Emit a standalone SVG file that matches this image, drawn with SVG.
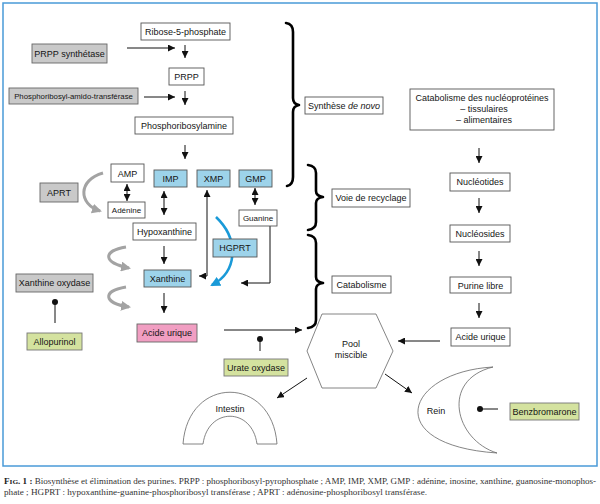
<svg xmlns="http://www.w3.org/2000/svg" width="600" height="504" viewBox="0 0 600 504">
<style>
text{font-family:"Liberation Sans",Arial,sans-serif;font-size:9px;fill:#151515;text-anchor:middle}
.sm{font-size:8px}
.xs{font-size:7.8px}
.box{fill:#fff;stroke:#555;stroke-width:0.9}
.gray{fill:#c9c9c9;stroke:#666;stroke-width:0.9}
.blue{fill:#9dd3ea;stroke:#555;stroke-width:0.9}
.green{fill:#d4e29f;stroke:#777;stroke-width:0.9}
.pink{fill:#f19ec2;stroke:#666;stroke-width:0.9}
.ln{fill:none;stroke:#111;stroke-width:1}
.garr{fill:none;stroke:#a3a3a3;stroke-width:3}
.barr{fill:none;stroke:#1a9ad8;stroke-width:2.6}
.brace{fill:none;stroke:#000;stroke-width:2.6;stroke-linecap:round;stroke-linejoin:round}
.organ{fill:#fff;stroke:#666;stroke-width:0.8}
.cap{font-family:"Liberation Serif","Times New Roman",serif;font-size:7.6px;text-anchor:start;fill:#333}
</style>
<defs>
<marker id="ah" viewBox="0 0 10 10" refX="10" refY="5" markerWidth="7" markerHeight="7" markerUnits="userSpaceOnUse" orient="auto-start-reverse"><path d="M0,0 L10,5 L0,10 z" fill="#111"/></marker>
<marker id="ahg" viewBox="0 0 10 10" refX="8" refY="5" markerWidth="10" markerHeight="10" markerUnits="userSpaceOnUse" orient="auto"><path d="M0,0 L10,5 L0,10 z" fill="#a3a3a3"/></marker>
<marker id="ahb" viewBox="0 0 10 10" refX="8" refY="5" markerWidth="10" markerHeight="10" markerUnits="userSpaceOnUse" orient="auto"><path d="M0,0 L10,5 L0,10 z" fill="#1a9ad8"/></marker>
</defs>
<rect x="3" y="3" width="594" height="463" fill="#fff" stroke="#4a9ad8" stroke-width="1.5"/>

<g id="connectors">
<path class="ln" d="M127,48 L175,48" marker-end="url(#ah)"/>
<path class="ln" d="M185,45 L185,58" marker-end="url(#ah)"/>
<path class="ln" d="M144,97 L175,97" marker-end="url(#ah)"/>
<path class="ln" d="M185,91 L185,105" marker-end="url(#ah)"/>
<path class="ln" d="M185,145 L185,159" marker-end="url(#ah)"/>
<path class="ln" d="M127,184 L127,201" marker-start="url(#ah)" marker-end="url(#ah)"/>
<path class="ln" d="M164,191 L164,215" marker-start="url(#ah)" marker-end="url(#ah)"/>
<path class="ln" d="M255,188 L255,205" marker-start="url(#ah)" marker-end="url(#ah)"/>
<path class="ln" d="M164,246 L164,264" marker-end="url(#ah)"/>
<path class="ln" d="M164,293 L164,313" marker-end="url(#ah)"/>
<path class="ln" d="M207,190 L207,276 L199,276" marker-start="url(#ah)" marker-end="url(#ah)"/>
<path class="ln" d="M270,226 L270,283 L241,283" marker-end="url(#ah)"/>
<path class="garr" d="M103,173 C78,180 78,204 100,211" marker-end="url(#ahg)"/>
<path class="garr" d="M126,247 C102,251 103,263 129,268" marker-end="url(#ahg)"/>
<path class="garr" d="M126,287 C102,291 103,303 129,307" marker-end="url(#ahg)"/>
<path class="barr" d="M216,217 C240,240 237,272 212,285" marker-end="url(#ahb)"/>
<path class="ln" d="M224,330 L302,330" marker-end="url(#ah)"/>
<path class="ln" d="M479,148 L479,163" marker-end="url(#ah)"/>
<path class="ln" d="M479,198 L479,213" marker-end="url(#ah)"/>
<path class="ln" d="M479,251 L479,266" marker-end="url(#ah)"/>
<path class="ln" d="M479,303 L479,318" marker-end="url(#ah)"/>
<path class="ln" d="M440,341 L398,341" marker-end="url(#ah)"/>
<path class="ln" d="M307,378 L277,398" marker-end="url(#ah)"/>
<path class="ln" d="M385,374 L412,393" marker-end="url(#ah)"/>
<g id="inhibitors">
<path class="ln" d="M55,302 L55,323"/><circle cx="55" cy="302" r="3" fill="#111"/>
<path class="ln" d="M260,339 L260,351"/><circle cx="260" cy="339" r="3" fill="#111"/>
<path class="ln" d="M480,409 L498,409"/><circle cx="480" cy="409" r="3" fill="#111"/>
</g>
</g>

<g id="braces">
<path class="brace" d="M286,23 Q293,24 293,32 L293,98 Q293,104 299,105 Q293,106 293,112 L293,177 Q293,185 287,186"/>
<path class="brace" d="M308,165 Q316,166 316,173 L316,191 Q316,196 323,197 Q316,198 316,203 L316,222 Q316,229 308,230"/>
<path class="brace" d="M308,235 Q316,236 316,243 L316,277 Q316,282 323,283 Q316,284 316,289 L316,320 Q316,327 308,328"/>
</g>

<g id="n-ribose"><rect class="box" x="141" y="23" width="89" height="17"/><text x="185.5" y="35">Ribose-5-phosphate</text></g>
<g id="n-prppsynth"><rect class="gray" x="32" y="44" width="75" height="19"/><text x="69.5" y="56.5">PRPP synthétase</text></g>
<g id="n-prpp"><rect class="box" x="169" y="68" width="35" height="17"/><text x="186.5" y="80">PRPP</text></g>
<g id="n-pat"><rect class="gray" x="9" y="88" width="129" height="16"/><text class="xs" x="73.5" y="99">Phosphoribosyl-amido-transférase</text></g>
<g id="n-pra"><rect class="box" x="135" y="117" width="98" height="17"/><text x="184" y="129">Phosphoribosylamine</text></g>
<g id="n-denovo"><rect class="box" x="305" y="97" width="78" height="17"/><text x="344" y="109">Synthèse <tspan font-style="italic">de novo</tspan></text></g>
<g id="n-catnuc"><rect class="box" x="410" y="89" width="144" height="41"/><text x="482" y="101">Catabolisme des nucléoprotéines</text><text x="484" y="112">– tissulaires</text><text x="484" y="123">– alimentaires</text></g>

<g id="n-amp"><rect class="box" x="111" y="164" width="33" height="18"/><text x="127.5" y="176.5">AMP</text></g>
<g id="n-imp"><rect class="blue" x="154" y="170" width="33" height="17"/><text x="170.5" y="182">IMP</text></g>
<g id="n-xmp"><rect class="blue" x="197" y="170" width="33" height="17"/><text x="213.5" y="182">XMP</text></g>
<g id="n-gmp"><rect class="blue" x="239" y="170" width="33" height="17"/><text x="255.5" y="182">GMP</text></g>
<g id="n-aprt"><rect class="gray" x="40" y="183" width="38" height="19"/><text x="59" y="195.5">APRT</text></g>
<g id="n-adenine"><rect class="box" x="108" y="202" width="37" height="16"/><text class="sm" x="126.5" y="213">Adénine</text></g>
<g id="n-guanine"><rect class="box" x="239" y="210" width="38" height="16"/><text class="sm" x="258" y="221">Guanine</text></g>
<g id="n-hypox"><rect class="box" x="133" y="223" width="63" height="17"/><text x="164.5" y="235">Hypoxanthine</text></g>
<g id="n-hgprt"><rect class="blue" x="213" y="239" width="44" height="18"/><text x="235" y="251">HGPRT</text></g>
<g id="n-voie"><rect class="box" x="332" y="189" width="78" height="18"/><text x="371" y="201">Voie de recyclage</text></g>
<g id="n-xanthine"><rect class="blue" x="144" y="270" width="47" height="17"/><text x="167.5" y="282">Xanthine</text></g>
<g id="n-xo"><rect class="gray" x="16" y="274" width="77" height="18"/><text x="54.5" y="286">Xanthine oxydase</text></g>
<g id="n-catab"><rect class="box" x="332" y="276" width="59" height="17"/><text x="361.5" y="288">Catabolisme</text></g>
<g id="n-acide-l"><rect class="pink" x="137" y="324" width="60" height="18"/><text x="167" y="336">Acide urique</text></g>
<g id="n-allo"><rect class="green" x="27" y="333" width="55" height="17"/><text x="54.5" y="345">Allopurinol</text></g>
<g id="n-urate"><rect class="green" x="224" y="359" width="64" height="17"/><text x="256" y="371">Urate oxydase</text></g>

<g id="n-nucleotides"><rect class="box" x="450" y="173" width="60" height="18"/><text x="480" y="185">Nucléotides</text></g>
<g id="n-nucleosides"><rect class="box" x="450" y="225" width="60" height="17"/><text x="480" y="237">Nucléosides</text></g>
<g id="n-purine"><rect class="box" x="450" y="277" width="61" height="16"/><text x="480.5" y="288.5">Purine libre</text></g>
<g id="n-acide-r"><rect class="box" x="451" y="328" width="59" height="18"/><text x="480.5" y="340">Acide urique</text></g>

<g id="n-pool"><polygon class="organ" points="322,314 376,314 393,351 376,388 322,388 307,351"/><text x="351" y="347">Pool</text><text x="351" y="358">miscible</text></g>
<g id="n-rein"><path class="organ" d="M493,367 C405,372 380,445 497,453 C455,440 440,380 493,367 Z"/><text x="436" y="414">Rein</text></g>
<g id="n-benz"><rect class="green" x="510" y="403" width="69" height="17"/><text x="544.5" y="415">Benzbromarone</text></g>
<g id="n-intestin"><path class="organ" d="M183,444 C188,375 272,375 277,444 L257,444 C252,407 208,407 203,444 Z"/><text x="230" y="412">Intestin</text></g>

<text class="cap" x="4" y="484" textLength="592" lengthAdjust="spacingAndGlyphs"><tspan font-weight="bold" fill="#222">F<tspan font-size="6.2px">IG</tspan>. 1 :</tspan> Biosynthèse et élimination des purines. PRPP : phosphoribosyl-pyrophosphate ; AMP, IMP, XMP, GMP : adénine, inosine, xanthine, guanosine-monophos-</text>
<text class="cap" x="4" y="495" textLength="423" lengthAdjust="spacingAndGlyphs">phate ; HGPRT : hypoxanthine-guanine-phosphoribosyl transférase ; APRT : adénosine-phosphoribosyl transférase.</text>
</svg>
